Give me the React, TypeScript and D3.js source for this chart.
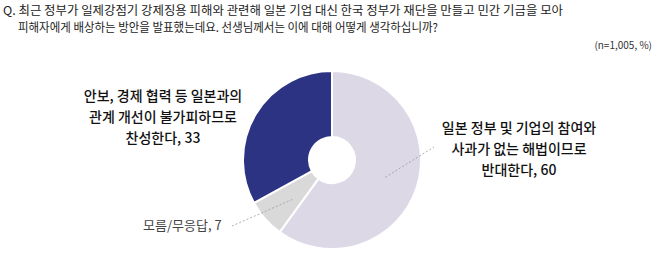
import React from "react";
import * as d3 from "d3";

const categories = ["일본 정부 및 기업의 참여와 사과가 없는 해법이므로 반대한다", "모름/무응답", "안보, 경제 협력 등 일본과의 관계 개선이 불가피하므로 찬성한다"];
const values = [60, 7, 33];
const colors = ["#DCD8E6", "#D9D9D9", "#2D3383"];
const titleLines = [
  "Q. 최근 정부가 일제강점기 강제징용 피해와 관련해 일본 기업 대신 한국 정부가 재단을 만들고 민간 기금을 모아",
  "피해자에게 배상하는 방안을 발표했는데요. 선생님께서는 이에 대해 어떻게 생각하십니까?",
];
const noteText = "(n=1,005, %)";
const labelLines = [
  ["일본 정부 및 기업의 참여와", "사과가 없는 해법이므로", "반대한다, 60"],
  ["모름/무응답, 7"],
  ["안보, 경제 협력 등 일본과의", "관계 개선이 불가피하므로", "찬성한다, 33"],
];

const W = 658, H = 266;
const cx = 332, cy = 160, R = 89, r0 = 23;
const font = "'Noto Sans CJK KR', 'Noto Sans', sans-serif";

export default function App() {
  const pie = d3.pie<number>().sort(null).startAngle(0).endAngle(2 * Math.PI);
  const arcs = pie(values);
  const arc = d3.arc<d3.PieArcDatum<number>>().innerRadius(r0).outerRadius(R);
  const point = (a: number, rr: number) => [cx + rr * Math.sin(a), cy - rr * Math.cos(a)];
  const midA = (i: number) => (arcs[i].startAngle + arcs[i].endAngle) / 2;

  const lav = [point(midA(0), 56), [434, 147]];
  const gr = [point(midA(1) - 0.06, 56), [232, 226]];

  return (
    <svg width={W} height={H} style={{ position: "absolute", left: 0, top: 0, background: "#fff" }} fontFamily={font}>
      <text x={3} y={14.5} fontSize={12} fill="#222" textLength={560} lengthAdjust="spacingAndGlyphs">{titleLines[0]}</text>
      <text x={18} y={31.5} fontSize={12} fill="#222" textLength={420} lengthAdjust="spacingAndGlyphs">{titleLines[1]}</text>
      <text x={652} y={49} fontSize={10} fill="#333" textAnchor="end">{noteText}</text>
      <g transform={`translate(${cx},${cy})`}>
        {arcs.map((a, i) => (
          <path key={i} d={arc(a) || ""} fill={colors[i]} stroke="#fff" strokeWidth={2} />
        ))}
      </g>
      <line x1={lav[0][0]} y1={lav[0][1]} x2={lav[1][0]} y2={lav[1][1]} stroke="#999" strokeWidth={0.8} strokeDasharray="2,2" />
      <line x1={gr[0][0]} y1={gr[0][1]} x2={gr[1][0]} y2={gr[1][1]} stroke="#999" strokeWidth={0.8} strokeDasharray="2,2" />
      {labelLines[0].map((t, i) => (
        <text key={i} x={519} y={133 + i * 21} fontSize={14} fontWeight={500} fill="#111" textAnchor="middle">{t}</text>
      ))}
      {labelLines[2].map((t, i) => (
        <text key={i} x={163} y={101 + i * 21} fontSize={14} fontWeight={500} fill="#111" textAnchor="middle">{t}</text>
      ))}
      <text x={143} y={230} fontSize={13} fill="#444">{labelLines[1][0]}</text>
    </svg>
  );
}
